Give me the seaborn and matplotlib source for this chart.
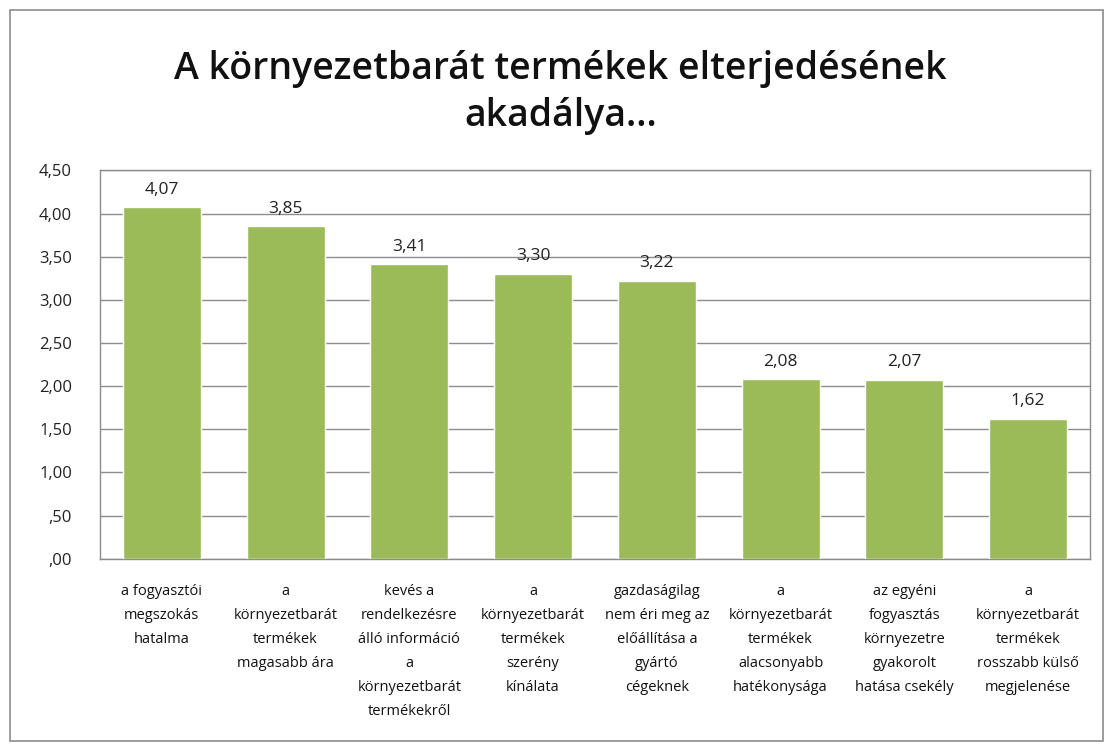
import matplotlib
matplotlib.use("Agg")
import matplotlib.pyplot as plt
import seaborn as sns
import pandas as pd
from matplotlib.patches import Rectangle

categories = [
    "a fogyasztói\nmegszokás\nhatalma",
    "a\nkörnyezetbarát\ntermékek\nmagasabb ára",
    "kevés a\nrendelkezésre\nálló információ\na\nkörnyezetbarát\ntermékekről",
    "a\nkörnyezetbarát\ntermékek\nszerény\nkínálata",
    "gazdaságilag\nnem éri meg az\nelőállítása a\ngyártó\ncégeknek",
    "a\nkörnyezetbarát\ntermékek\nalacsonyabb\nhatékonysága",
    "az egyéni\nfogyasztás\nkörnyezetre\ngyakorolt\nhatása csekély",
    "a\nkörnyezetbarát\ntermékek\nrosszabb külső\nmegjelenése",
]
values = [4.07, 3.85, 3.41, 3.30, 3.22, 2.08, 2.07, 1.62]
yticks = [0, 0.5, 1.0, 1.5, 2.0, 2.5, 3.0, 3.5, 4.0, 4.5]

title = "A környezetbarát termékek elterjedésének\nakadálya..."
bar_color = "#9BBB59"


def hu(v):
    # magyar tizedesvessző, a vezető nulla nélkül
    s = f"{v:.2f}".replace(".", ",")
    if s.startswith("0,"):
        s = s[1:]
    return s


sns.set_style("white")
plt.rcParams["font.family"] = ["Open Sans", "DejaVu Sans"]

df = pd.DataFrame({"kat": categories, "ertek": values})

fig = plt.figure(figsize=(11.1, 7.44), dpi=100)
ax = fig.add_axes([0.09, 0.249, 0.892, 0.522])

sns.barplot(data=df, x="kat", y="ertek", color=bar_color, width=0.63,
            saturation=1, ax=ax, zorder=3)

ax.set_ylim(0, 4.5)
ax.set_yticks(yticks)
ax.set_yticklabels([hu(t) for t in yticks], fontsize=12, color="#222222")
ax.yaxis.grid(True, color="#8c8c8c", linewidth=1, zorder=0)
ax.set_axisbelow(True)
ax.tick_params(axis="x", length=0, pad=18, colors="#111111")
ax.tick_params(axis="y", length=0, pad=20)
for lbl in ax.get_xticklabels():
    lbl.set_fontsize(10.5)
    lbl.set_linespacing(1.82)
ax.set_xlabel("")
ax.set_ylabel("")
for sp in ax.spines.values():
    sp.set_color("#8c8c8c")
    sp.set_linewidth(1)

for p, v in zip(ax.patches, values):
    ax.annotate(hu(v), (p.get_x() + p.get_width() / 2, v),
                xytext=(0, 7), textcoords="offset points",
                ha="center", va="bottom", fontsize=12.5, color="#222222")

fig.text(0.505, 0.876, title, ha="center", va="center", fontsize=27,
         fontweight="semibold", linespacing=1.3, color="#111111")

fig.patches.append(Rectangle((0.009, 0.004), 0.985, 0.983,
                             transform=fig.transFigure, fill=False,
                             edgecolor="#8c8c8c", linewidth=1.2))

fig.savefig("out.png", dpi=100)
